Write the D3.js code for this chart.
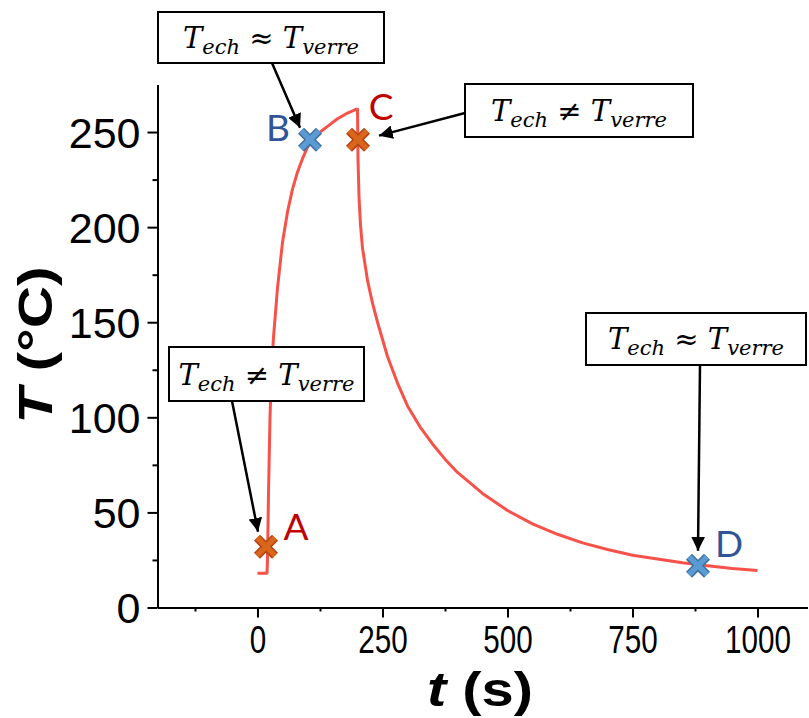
<!DOCTYPE html>
<html><head><meta charset="utf-8">
<script src="https://cdn.jsdelivr.net/npm/d3@7"></script>
<style>body{margin:0;background:#fff}svg{display:block}</style>
</head><body>
<svg id="c" width="809" height="718"></svg>
<script>
// ---- data ----
const timeS = [0, 10, 19, 20, 22, 25, 28, 32, 36, 40, 45, 50, 60, 70, 80, 90, 100, 110, 120, 140, 160, 180, 198, 200,
  201, 203, 206, 210, 220, 230, 240, 260, 280, 300, 325, 350, 375, 400, 450, 500, 550, 600, 650, 700, 750, 800, 850, 900, 950, 1000];
const tempC = [18, 18, 18, 25, 60, 100, 125, 142, 155, 168, 180, 192, 208, 220, 229, 236, 242, 246, 249, 253, 257, 260, 262, 262,
  236, 216, 201, 189, 172, 160, 150, 132, 118, 106, 95, 86, 78, 71, 60, 51, 44, 38.5, 34, 30.5, 27.5, 25.5, 23.5, 22, 20.5, 19.5];
const pointNames = ["A", "B", "C", "D"];
const pointT = [17, 105, 201, 881];
const pointV = [32, 246, 246, 22];
const pointGroup = ["ne", "eq", "ne", "eq"];
const xTicks = [0, 250, 500, 750, 1000];
const xMinor = [-125, 125, 375, 625, 875];
const yTicks = [0, 50, 100, 150, 200, 250];
const yMinor = [25, 75, 125, 175, 225];

// ---- layout ----
const svg = d3.select("#c");
const x = d3.scaleLinear([-200, 1100], [157.5, 807.5]);
const y = d3.scaleLinear([0, 275], [607.5, 84.5]);

// axes
const gx = svg.append("g").attr("transform", `translate(0,${y(0)})`)
  .call(d3.axisBottom(x).tickValues(xTicks).tickSize(10).tickSizeOuter(0).tickFormat(d3.format("d")));
const gxm = svg.append("g").attr("transform", `translate(0,${y(0)})`)
  .call(d3.axisBottom(x).tickValues(xMinor).tickSize(4).tickSizeOuter(0).tickFormat(""));
gxm.select(".domain").remove();
const gy = svg.append("g").attr("transform", `translate(${x(-200)},0)`)
  .call(d3.axisLeft(y).tickValues(yTicks).tickSize(10).tickSizeOuter(0));
const gym = svg.append("g").attr("transform", `translate(${x(-200)},0)`)
  .call(d3.axisLeft(y).tickValues(yMinor).tickSize(5).tickSizeOuter(0).tickFormat(""));
gym.select(".domain").remove();
svg.selectAll(".domain, .tick line").attr("stroke", "#000").attr("stroke-width", 2);

gx.selectAll(".tick text").attr("font-family", "Liberation Sans, Arial, sans-serif")
  .attr("font-size", 39).attr("fill", "#000").attr("y", 0).attr("dy", 0)
  .attr("transform", "translate(0,45) scale(0.76,1)")
  .attr("x", 0);
gy.selectAll(".tick text").attr("font-family", "Liberation Sans, Arial, sans-serif")
  .attr("font-size", 43).attr("fill", "#000").attr("x", -17).attr("dy", "0.36em");

// axis titles
svg.append("text").attr("transform", "translate(52,345) rotate(-90) scale(1.2,1)")
  .attr("text-anchor", "middle").attr("font-family", "Liberation Sans, Arial, sans-serif")
  .attr("font-weight", "bold").attr("font-size", 49)
  .call(t => { t.append("tspan").attr("font-style", "italic").text("T"); t.append("tspan").text(" (°C)"); });
svg.append("text").attr("transform", "translate(480,706) scale(1.18,1)")
  .attr("text-anchor", "middle").attr("font-family", "Liberation Sans, Arial, sans-serif")
  .attr("font-weight", "bold").attr("font-size", 49)
  .call(t => { t.append("tspan").attr("font-style", "italic").text("t"); t.append("tspan").text(" (s)"); });

// curve
const series = timeS.map((t, i) => [t, tempC[i]]);
svg.append("path").datum(series)
  .attr("fill", "none").attr("stroke", "#f7524a").attr("stroke-width", 3)
  .attr("stroke-linejoin", "round")
  .attr("d", d3.line().x(d => x(d[0])).y(d => y(d[1])));

// arrowhead marker
svg.append("defs").append("marker").attr("id", "ah").attr("viewBox", "0 0 10 10")
  .attr("refX", 10).attr("refY", 5).attr("markerWidth", 5.5).attr("markerHeight", 5.5)
  .attr("markerUnits", "strokeWidth").attr("orient", "auto")
  .append("path").attr("d", "M0,0 L10,5 L0,10 z").attr("fill", "#000");

// annotation boxes: [left, top, width, height] and arrow start; arrow target = point
const boxes = [
  { p: 1, rel: "≈", box: [158, 12, 226, 51], from: [272, 63] },
  { p: 2, rel: "≠", box: [465, 84, 228, 53], from: [465, 113] },
  { p: 0, rel: "≠", box: [169, 347, 195, 54], from: [232, 401] },
  { p: 3, rel: "≈", box: [586, 313, 220, 52], from: [700, 365] }
];
const arrowTip = [[-8, -15], [-10, -12], [21, -4], [0, -15]];
boxes.forEach(b => {
  const g = svg.append("g");
  g.append("rect").attr("x", b.box[0]).attr("y", b.box[1]).attr("width", b.box[2]).attr("height", b.box[3])
    .attr("fill", "#fff").attr("stroke", "#000").attr("stroke-width", 2);
  const txt = g.append("text").attr("x", b.box[0] + b.box[2] / 2).attr("y", b.box[1] + b.box[3] * 0.7)
    .attr("text-anchor", "middle").attr("font-family", "DejaVu Serif, serif").attr("font-size", 29);
  txt.append("tspan").attr("font-style", "italic").text("T");
  txt.append("tspan").attr("font-style", "italic").attr("font-size", 21).attr("dy", 6).text("ech");
  txt.append("tspan").attr("dy", -6).text(" " + b.rel + " ");
  txt.append("tspan").attr("font-style", "italic").text("T");
  txt.append("tspan").attr("font-style", "italic").attr("font-size", 21).attr("dy", 6).text("verre");
  const tip = arrowTip[b.p];
  g.append("line").attr("x1", b.from[0]).attr("y1", b.from[1])
    .attr("x2", x(pointT[b.p]) + tip[0]).attr("y2", y(pointV[b.p]) + tip[1])
    .attr("stroke", "#000").attr("stroke-width", 2.5).attr("marker-end", "url(#ah)");
});

// point markers
const colInner = { ne: "#d8661c", eq: "#5b9bd5" };
const colOuter = { ne: "#b8420f", eq: "#41719c" };
const colLabel = { ne: "#c00000", eq: "#2f5597" };
const labelOff = [[30, -20], [-32, -12], [23, -33], [31, -22]];
const cross = "M-9,-9L9,9M-9,9L9,-9";
pointNames.forEach((n, i) => {
  const g = svg.append("g").attr("transform", `translate(${x(pointT[i])},${y(pointV[i])})`);
  g.append("path").attr("d", cross).attr("stroke", colOuter[pointGroup[i]]).attr("stroke-width", 8.5);
  g.append("path").attr("d", cross).attr("stroke", colInner[pointGroup[i]]).attr("stroke-width", 5.5);
  g.append("text").attr("x", labelOff[i][0]).attr("y", labelOff[i][1]).attr("dy", "0.36em")
    .attr("text-anchor", "middle").attr("font-family", "Lato, Open Sans, sans-serif").attr("font-size", 37)
    .attr("fill", colLabel[pointGroup[i]]).text(n);
});
</script>
</body></html>
